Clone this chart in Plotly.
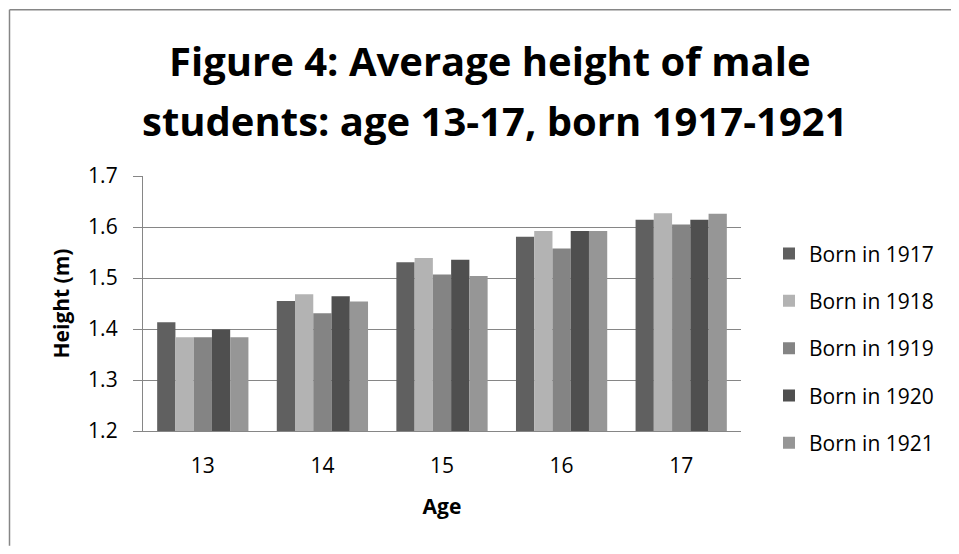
import plotly.graph_objects as go

ages = ["13", "14", "15", "16", "17"]
series_names = ["Born in 1917", "Born in 1918", "Born in 1919", "Born in 1920", "Born in 1921"]
born_1917 = [1.413, 1.455, 1.531, 1.581, 1.614]
born_1918 = [1.384, 1.468, 1.539, 1.592, 1.627]
born_1919 = [1.384, 1.431, 1.507, 1.558, 1.605]
born_1920 = [1.399, 1.464, 1.536, 1.592, 1.614]
born_1921 = [1.384, 1.454, 1.504, 1.592, 1.626]
series_values = [born_1917, born_1918, born_1919, born_1920, born_1921]
colors = ["#606060", "#b3b3b3", "#848484", "#4f4f4f", "#969696"]
y_ticks = [1.2, 1.3, 1.4, 1.5, 1.6, 1.7]
title_lines = ["Figure 4: Average height of male", "students: age 13-17, born 1917-1921"]

FONT = "'Open Sans', Calibri, sans-serif"
OFF = 8  # page body margin
W, H = 959 - 2 * OFF, 554 - 2 * OFF  # fit the window without any overflow
# plot area in page pixels
L, R, T, B = 143 - OFF, 741 - OFF, 175.5 - OFF, 431 - OFF
pw, ph = R - L, B - T


def px_x(p):
    return (p - OFF - L) / pw


def px_y(p):
    return (B - (p - OFF)) / ph


fig = go.Figure()
for i, (name, vals, c) in enumerate(zip(series_names, series_values, colors)):
    fig.add_trace(go.Bar(
        x=ages, y=vals, name=name, marker_color=c,
        marker_line_width=0, legendgroup=str(i),
    ))

frame_line = dict(color="#868686", width=1.5)

fig.update_layout(
    width=W, height=H,
    margin=dict(l=L, r=W - R, t=T, b=H - B, pad=0),
    paper_bgcolor="white", plot_bgcolor="white",
    barmode="group", bargap=0.237, bargroupgap=0,
    font=dict(family=FONT, size=21, color="#000000"),
    showlegend=True,
    legend=dict(
        x=px_x(769), xanchor="left", y=px_y(233), yanchor="top",
        font=dict(family=FONT, size=21, color="#000000"),
        bgcolor="rgba(0,0,0,0)", tracegroupgap=17, traceorder="grouped",
    ),
    xaxis=dict(
        showline=True, linecolor="#868686", linewidth=1.3,
        ticks="", ticklabelstandoff=16,
        tickfont=dict(family=FONT, size=21),
        title=dict(text="<b>Age</b>", font=dict(family=FONT, size=21), standoff=20),
    ),
    yaxis=dict(
        range=[1.2, 1.7], tickvals=y_ticks, ticktext=[f"{v:.1f}" for v in y_ticks],
        showgrid=True, gridcolor="#868686", gridwidth=1.3,
        showline=True, linecolor="#868686", linewidth=1.3,
        ticks="outside", ticklen=9, tickcolor="#868686", tickwidth=1.3,
        ticklabelstandoff=11,
        tickfont=dict(family=FONT, size=21),
        zeroline=False,
        title=dict(text="<b>Height (m)</b>", font=dict(family=FONT, size=21), standoff=12),
    ),
    annotations=[
        dict(text=f"<b>{title_lines[0]}</b>", xref="paper", yref="paper",
             x=px_x(490), y=px_y(60), xanchor="center", yanchor="middle",
             showarrow=False, font=dict(family=FONT, size=40, color="#000000")),
        dict(text=f"<b>{title_lines[1]}</b>", xref="paper", yref="paper",
             x=px_x(495), y=px_y(120), xanchor="center", yanchor="middle",
             showarrow=False, font=dict(family=FONT, size=40, color="#000000")),
    ],
    shapes=[
        dict(type="line", xref="paper", yref="paper",
             x0=px_x(9.5), x1=px_x(9.5), y0=px_y(9), y1=px_y(OFF + H), line=frame_line),
        dict(type="line", xref="paper", yref="paper",
             x0=px_x(9.5), x1=px_x(OFF + W), y0=px_y(9), y1=px_y(9), line=frame_line),
    ],
)

fig.write_html("out.html")
